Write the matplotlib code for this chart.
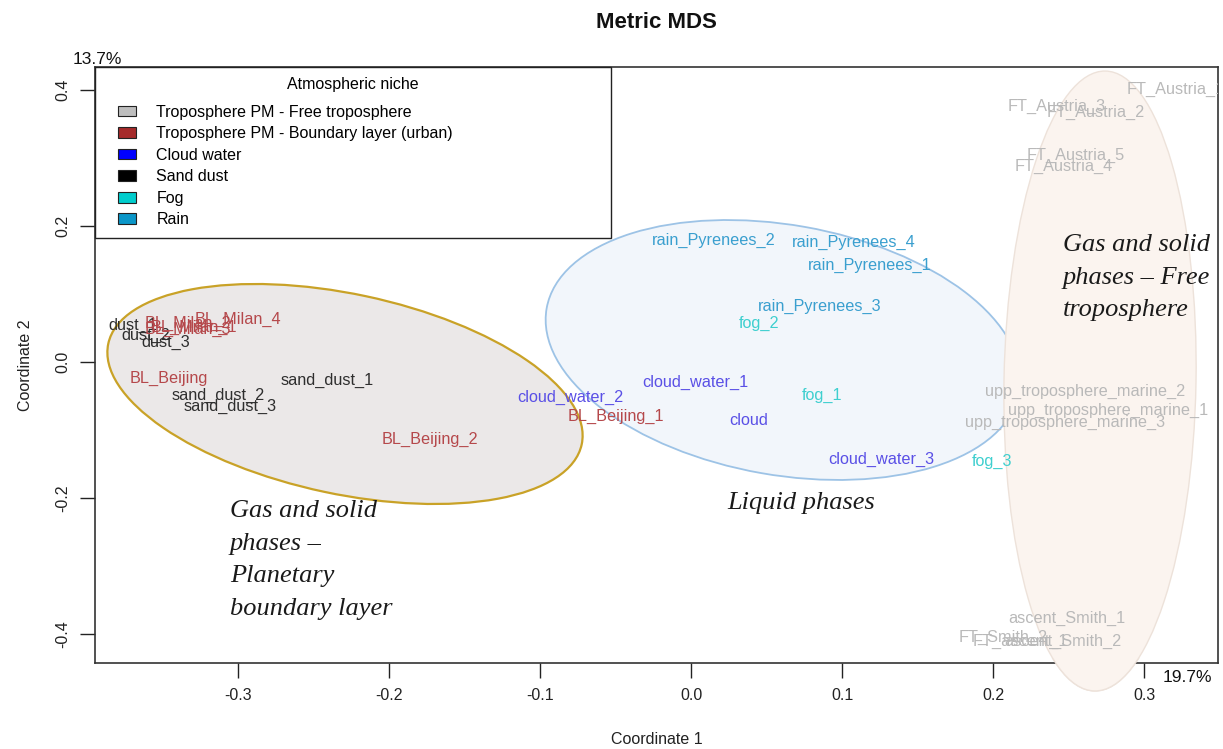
import matplotlib.pyplot as plt
from matplotlib.patches import Ellipse, Patch, Rectangle
from matplotlib.legend_handler import HandlerPatch

plt.rcParams['font.family'] = ['Liberation Sans', 'DejaVu Sans']
plt.rcParams['axes.unicode_minus'] = False

# legend categories
niches = ['Troposphere PM - Free troposphere', 'Troposphere PM - Boundary layer (urban)',
          'Cloud water', 'Sand dust', 'Fog', 'Rain']
niche_colors = ['#bebebe', '#a52a2a', '#0000ff', '#000000', '#00cdcd', '#0a96c8']
# text colours of the sample labels (lighter than the legend boxes)
label_colors = {'FT': '#b9b9b9', 'BL': '#b5484b', 'cloud': '#5a50e6',
                'dust': '#2e2e2e', 'fog': '#3ecfcf', 'rain': '#3a9fcf'}

# MDS coordinates
sample_names = ['dust_1', 'dust_2', 'dust_3',
                'BL_Milan_4', 'BL_Milan_1', 'BL_Milan_2', 'BL_Milan_3',
                'BL_Beijing', 'sand_dust_1', 'sand_dust_2', 'sand_dust_3',
                'BL_Beijing_2', 'cloud_water_2', 'BL_Beijing_1', 'cloud_water_1',
                'cloud', 'fog_1', 'cloud_water_3', 'fog_3',
                'rain_Pyrenees_2', 'rain_Pyrenees_4', 'rain_Pyrenees_1',
                'rain_Pyrenees_3', 'fog_2',
                'FT_Austria_1', 'FT_Austria_3', 'FT_Austria_2', 'FT_Austria_5',
                'FT_Austria_4',
                'upp_troposphere_marine_2', 'upp_troposphere_marine_1',
                'upp_troposphere_marine_3',
                'ascent_Smith_1', 'FT_Smith_2', 'FT_ascent_1', 'ascent_Smith_2']
coord1 = [-0.370, -0.361, -0.348,
          -0.300, -0.329, -0.333, -0.333,
          -0.346, -0.241, -0.313, -0.305,
          -0.173, -0.080, -0.050, 0.003,
          0.038, 0.087, 0.126, 0.199,
          0.015, 0.108, 0.118,
          0.085, 0.045,
          0.321, 0.242, 0.268, 0.255,
          0.247,
          0.261, 0.276,
          0.248,
          0.249, 0.207, 0.218, 0.246]
coord2 = [0.054, 0.039, 0.029,
          0.063, 0.050, 0.057, 0.047,
          -0.024, -0.027, -0.049, -0.065,
          -0.114, -0.053, -0.080, -0.030,
          -0.087, -0.050, -0.143, -0.146,
          0.178, 0.175, 0.141,
          0.082, 0.056,
          0.401, 0.375, 0.366, 0.303,
          0.288,
          -0.044, -0.072,
          -0.089,
          -0.378, -0.406, -0.411, -0.411]
sample_group = ['dust', 'dust', 'dust',
                'BL', 'BL', 'BL', 'BL',
                'BL', 'dust', 'dust', 'dust',
                'BL', 'cloud', 'BL', 'cloud',
                'cloud', 'fog', 'cloud', 'fog',
                'rain', 'rain', 'rain',
                'rain', 'fog',
                'FT', 'FT', 'FT', 'FT',
                'FT',
                'FT', 'FT',
                'FT',
                'FT', 'FT', 'FT', 'FT']

W, H = 1223, 749
fig = plt.figure(figsize=(W / 100, H / 100), dpi=100)

# background layer (pixel coords) for the hand-drawn ellipses
bg = fig.add_axes([0, 0, 1, 1], zorder=0)
bg.set_xlim(0, W)
bg.set_ylim(H, 0)
bg.axis('off')
bg.add_patch(Ellipse((345, 394), 484, 200, angle=12,
                     facecolor='#ebe8e8', edgecolor='#c9a227', lw=1.6))
bg.add_patch(Ellipse((783, 350), 480, 250, angle=10,
                     facecolor='#f2f6fb', edgecolor='#9dc3e6', lw=1.3))
bg.add_patch(Ellipse((1100, 381), 192, 620, angle=1,
                     facecolor='#fbf4ef', edgecolor='#ede2da', lw=1.0))

ax = fig.add_axes([95 / W, 86 / H, 1123 / W, 596 / H], zorder=1)
ax.patch.set_alpha(0)
ax.set_xlim(-0.3948, 0.349)
ax.set_ylim(-0.4429, 0.4335)

for name, x, y, g in zip(sample_names, coord1, coord2, sample_group):
    ax.text(x, y, name, color=label_colors[g], fontsize=11.7,
            ha='center', va='center', clip_on=True)

ax.set_xticks([-0.3, -0.2, -0.1, 0.0, 0.1, 0.2, 0.3])
ax.set_yticks([-0.4, -0.2, 0.0, 0.2, 0.4])
ax.set_xticklabels(['-0.3', '-0.2', '-0.1', '0.0', '0.1', '0.2', '0.3'])
ax.set_yticklabels(['-0.4', '-0.2', '0.0', '0.2', '0.4'])
ax.tick_params(length=11, width=1, labelsize=11.5, colors='#222222')
ax.tick_params(axis='x', pad=7)
ax.tick_params(axis='y', pad=7)
plt.setp(ax.get_yticklabels(), rotation=90, va='center')
for s in ax.spines.values():
    s.set_linewidth(1.2)
    s.set_color('#333333')
ax.set_xlabel('Coordinate 1', fontsize=11.5, labelpad=21, color='#222222')
ax.set_ylabel('Coordinate 2', fontsize=11.5, labelpad=16, color='#222222')


def box_handle(legend, orig_handle, xdescent, ydescent, width, height, fontsize):
    # small filled box at the right of the handle area, like R's legend
    return Rectangle((width - 13 - xdescent, -ydescent), 13, height)


handles = [Patch(facecolor=c, edgecolor='#222222', lw=0.8) for c in niche_colors]
leg = ax.legend(handles, niches, title='Atmospheric niche', loc='upper left',
                bbox_to_anchor=(0, 0, 516 / 1123, 1), mode='expand',
                borderaxespad=0, fontsize=11.5, title_fontsize=11.5,
                fancybox=False, framealpha=1, edgecolor='#222222',
                handlelength=1.9, handleheight=0.65, handletextpad=1.3,
                labelspacing=0.41, borderpad=0.65,
                handler_map={Patch: HandlerPatch(patch_func=box_handle)})
leg.get_frame().set_linewidth(1.0)
leg._legend_box.sep = 8.8

# foreground layer: annotations and the part of the beige ellipse over the frame
fg = fig.add_axes([0, 0, 1, 1], zorder=2)
fg.set_xlim(0, W)
fg.set_ylim(H, 0)
fg.axis('off')
cover = Ellipse((1100, 381), 192, 620, angle=1,
                facecolor='#fbf4ef', edgecolor='#ede2da', lw=1.0)
fg.add_patch(cover)
cover.set_clip_path(Rectangle((0, 658), W, 100, transform=fg.transData))

serif = dict(family=['Liberation Serif', 'DejaVu Serif'], style='italic',
             fontsize=19, color='#1a1a1a', ha='left', va='top', linespacing=1.63)
fg.text(230, 500, 'Gas and solid\nphases \u2013\nPlanetary\nboundary layer', **serif)
fg.text(727, 492, 'Liquid phases', **serif)
fg.text(1063, 234, 'Gas and solid\nphases \u2013 Free\ntroposphere', **serif)

fg.text(73, 59, '13.7%', fontsize=12.5, ha='left', va='center', color='#111111')
fg.text(1163, 678, '19.7%', fontsize=12.5, ha='left', va='center', color='#111111')
fg.text(656, 22, 'Metric MDS', fontsize=16, fontweight='bold',
        ha='center', va='center', color='#111111')

fig.savefig('out.png', dpi=100)
